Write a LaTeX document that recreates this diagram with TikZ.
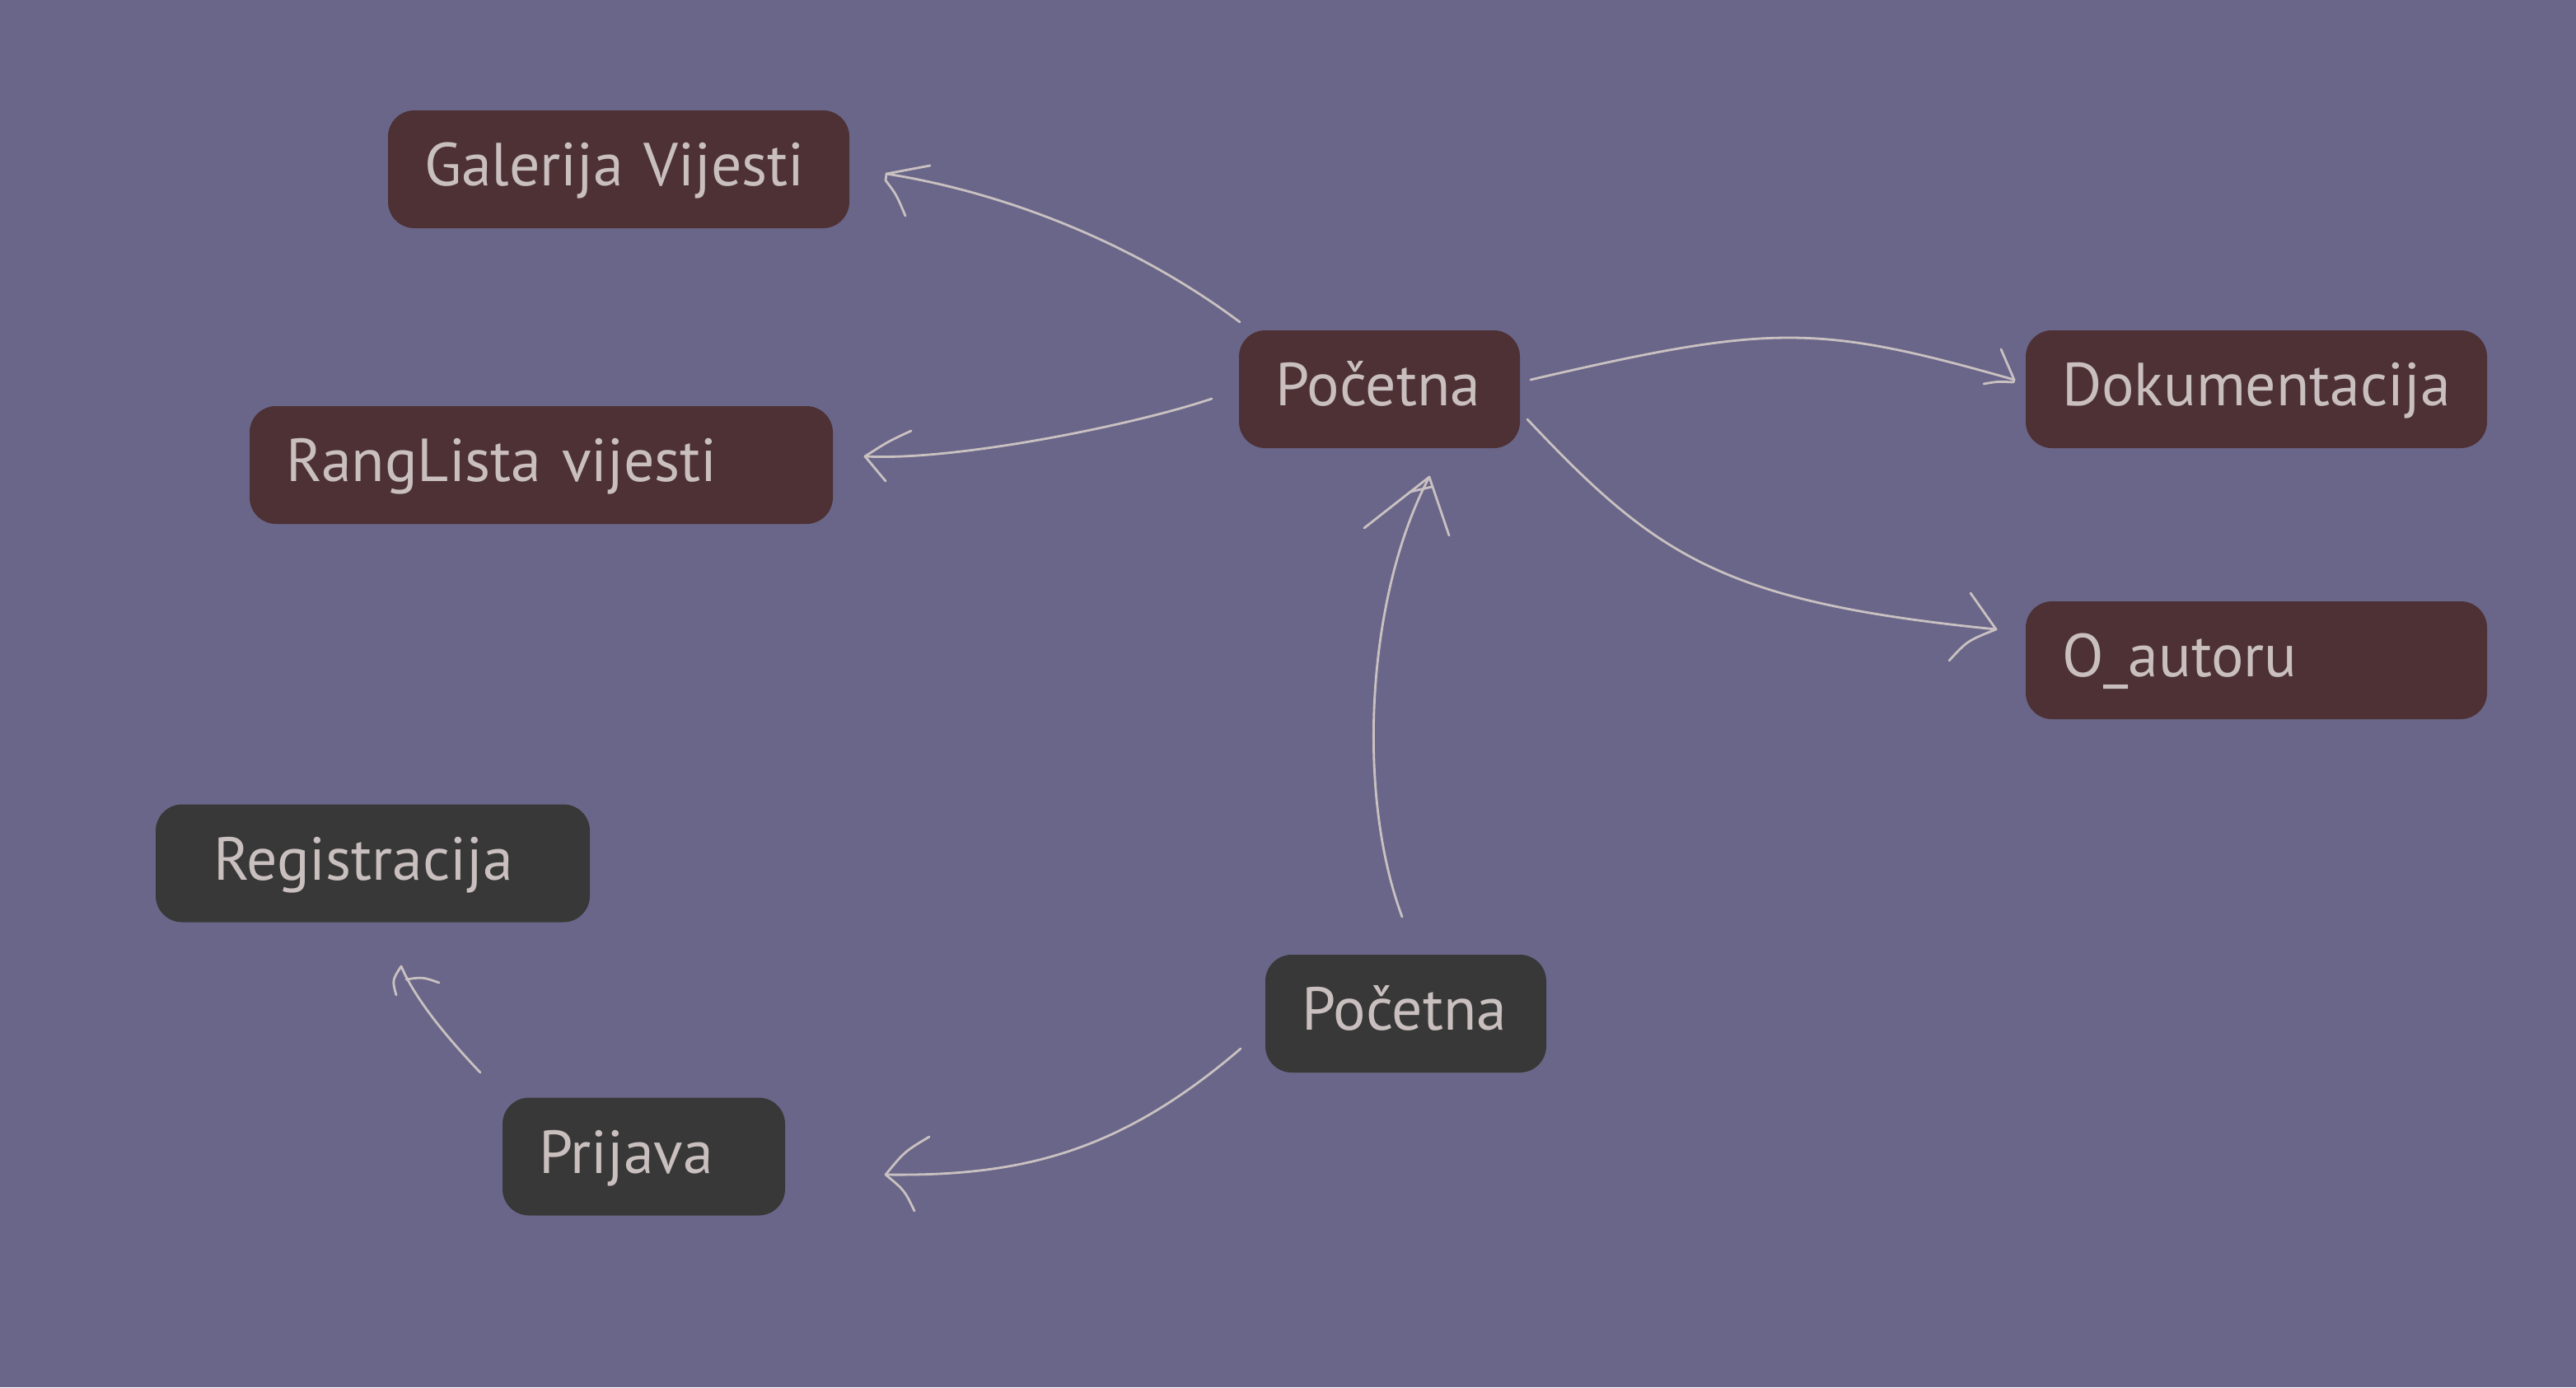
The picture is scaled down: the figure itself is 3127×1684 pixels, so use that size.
\documentclass[tikz,border=0pt]{standalone}
\usepackage{fontspec}
\setmainfont[WordSpace=0.7]{PT Sans}
\definecolor{bgc}{HTML}{6A6689}
\definecolor{brn}{HTML}{4D3134}
\definecolor{drk}{HTML}{383838}
\definecolor{txt}{HTML}{C9BFBF}
\definecolor{lnc}{HTML}{C9C1C1}
\begin{document}
\begin{tikzpicture}[x=0.1mm,y=-0.1mm,
  box/.style={rounded corners=3.2mm, minimum height=14.3mm, inner xsep=4.4mm, inner ysep=0pt,
    align=left, text height=14.8pt, text depth=3.4pt, text=txt,
    font=\fontsize{21pt}{25pt}\selectfont},
  bbox/.style={box, fill=brn},
  gbox/.style={box, fill=drk},
  conn/.style={draw=lnc, line width=0.8pt, line cap=round, line join=round}]
\fill[bgc] (0,0) rectangle (3127,1684);
\useasboundingbox (0,0) rectangle (3127,1684);
% nodes
\node[bbox, text width=47.2mm] (gal) at (751,205.5) {Galerija Vijesti};
\node[bbox, text width=25.3mm] (pt1) at (1674.5,472.5) {Početna};
\node[bbox, text width=47.2mm] (dok) at (2739,472.5) {Dokumentacija};
\node[bbox, text width=62.0mm] (rang) at (657,564.5) {RangLista vijesti};
\node[bbox, text width=47.2mm] (oaut) at (2739,801.5) {O\_autoru};
\node[gbox, inner xsep=7mm, text width=38.7mm] (reg) at (452.5,1048) {Registracija};
\node[gbox, text width=25.3mm] (pt2) at (1706.5,1230.5) {Početna};
\node[gbox, text width=25.5mm] (pri) at (781.5,1404) {Prijava};
% connector end points
\coordinate (a1s) at (1505,391); \coordinate (a1t) at (1076,211);
\coordinate (a2s) at (1471,484); \coordinate (a2t) at (1050,554);
\coordinate (a3s) at (1858,461); \coordinate (a3t) at (2445,461);
\coordinate (a4s) at (1854,509); \coordinate (a4t) at (2423,764);
\coordinate (a5s) at (1702,1113); \coordinate (a5t) at (1735,579);
\coordinate (a6s) at (1506,1273); \coordinate (a6t) at (1075,1426);
\coordinate (a7s) at (583,1302); \coordinate (a7t) at (487,1173);
% pt1 -> gal
\draw[conn] (a1s) .. controls (1370,290) and (1210,232) .. (a1t);
\draw[conn] (1129,201) -- (a1t) -- (1075,219) .. controls (1088,236) .. (1099,262);
% pt1 -> rang
\draw[conn] (a2s) .. controls (1380,515) and (1160,560) .. (a2t);
\draw[conn] (1106,523) .. controls (1078,536) .. (a2t) -- (1075,584);
% pt1 -> dok
\draw[conn] (a3s) .. controls (2150,393) and (2206,393) .. (a3t);
\draw[conn] (2429,424) -- (a3t) -- (2444,464) .. controls (2425,463) .. (2408,466);
% pt1 -> oaut
\draw[conn] (a4s) .. controls (2012,677) and (2093,731) .. (a4t);
\draw[conn] (2392,720) -- (a4t) .. controls (2388,778) .. (2366,802);
% pt2 -> pt1
\draw[conn] (a5s) .. controls (1645,960) and (1660,720) .. (a5t);
\draw[conn] (1656,641) -- (a5t) -- (1759,650);
\draw[conn] (1712,597) -- (1738,591);
% pt2 -> pri
\draw[conn] (a6s) .. controls (1357,1401) and (1237,1428) .. (a6t);
\draw[conn] (1128,1380) .. controls (1098,1398) .. (a6t) .. controls (1098,1445) .. (1110,1470);
% pri -> reg
\draw[conn] (a7s) .. controls (545,1262) and (505,1215) .. (a7t);
\draw[conn] (a7t) .. controls (476,1190) .. (481,1208);
\draw[conn] (493,1189) .. controls (513,1186) .. (533,1193);
\end{tikzpicture}
\end{document}
